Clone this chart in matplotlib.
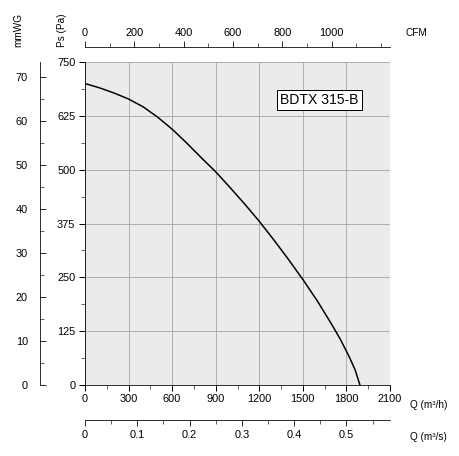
import matplotlib.pyplot as plt
import numpy as np

# fan curve
q_m3h = [0, 100, 200, 300, 400, 500, 600, 700, 800, 900, 1000, 1100, 1200, 1300,
         1400, 1500, 1600, 1700, 1760, 1820, 1860, 1893]
ps_pa = [700, 690, 678, 664, 646, 622, 594, 562, 528, 495, 458, 420, 380, 337,
         292, 245, 195, 140, 105, 65, 35, 0]

pa_ticks = [0, 125, 250, 375, 500, 625, 750]
q_ticks = [0, 300, 600, 900, 1200, 1500, 1800, 2100]
cfm_ticks = [0, 200, 400, 600, 800, 1000]
m3s_ticks = [0, 0.1, 0.2, 0.3, 0.4, 0.5]
mm_ticks = [0, 10, 20, 30, 40, 50, 60, 70]
label = "BDTX 315-B"

plt.rcParams["font.family"] = "Liberation Sans"
plt.rcParams["font.size"] = 11
fig = plt.figure(figsize=(459 / 72, 456 / 72), dpi=72)
ax = fig.add_axes([85 / 459, 1 - 385 / 456, 305 / 459, 323 / 456])
ax.set_facecolor("#ebebeb")
ax.set_xlim(0, 2100)
ax.set_ylim(0, 750)
for s in ax.spines.values():
    s.set_visible(False)
ax.spines["bottom"].set_visible(True)
ax.spines["left"].set_visible(True)
ax.set_xticks(q_ticks)
ax.set_xticks(np.arange(0, 2101, 150), minor=True)
ax.set_yticks(pa_ticks)
ax.set_yticks(np.arange(0, 751, 62.5), minor=True)
ax.tick_params(length=6, width=1)
ax.tick_params(which="minor", length=4)
ax.grid(True, color="#a0a0a0", lw=0.8)
ax.plot(q_m3h, ps_pa, color="black", lw=1.5)
ax.text(0.64, 0.87, label, transform=ax.transAxes, fontsize=14,
        bbox=dict(facecolor="white", edgecolor="black", pad=3))

# top CFM axis
top = ax.twiny()
top.set_xlim(0, 2100 / 1.699)
for s in top.spines.values():
    s.set_visible(False)
top.spines["top"].set_visible(True)
top.spines["top"].set_position(("outward", 15))
top.set_xticks(cfm_ticks)
top.set_xticks(np.arange(0, 1201, 100), minor=True)
top.tick_params(length=6)
top.tick_params(which="minor", length=4)

# bottom m3/s axis
bot = ax.twiny()
bot.set_xlim(0, 2100 / 3600)
for s in bot.spines.values():
    s.set_visible(False)
bot.xaxis.set_ticks_position("bottom")
bot.xaxis.set_label_position("bottom")
bot.spines["bottom"].set_visible(True)
bot.spines["bottom"].set_position(("outward", 35))
bot.set_xticks(m3s_ticks)
bot.set_xticklabels(["0", "0.1", "0.2", "0.3", "0.4", "0.5"])
bot.set_xticks(np.arange(0, 0.58, 0.05), minor=True)
bot.tick_params(length=6)
bot.tick_params(which="minor", length=4)

# left mmWG axis
lft = ax.twinx()
lft.set_ylim(0, 73.4)
for s in lft.spines.values():
    s.set_visible(False)
lft.yaxis.set_ticks_position("left")
lft.spines["left"].set_visible(True)
lft.spines["left"].set_position(("outward", 45))
lft.set_yticks(mm_ticks)
lft.set_yticks(np.arange(0, 73, 5), minor=True)
lft.tick_params(length=6, direction="in", pad=12)
lft.tick_params(which="minor", length=4, direction="in")

fig.text(18 / 459, 1 - 30 / 456, "mmWG", rotation=90, ha="center", va="center", fontsize=10)
fig.text(62 / 459, 1 - 30 / 456, "Ps (Pa)", rotation=90, ha="center", va="center", fontsize=10)
fig.text(405 / 459, 1 - 33 / 456, "CFM", ha="left", va="center", fontsize=10)
fig.text(410 / 459, 1 - 405 / 456, "Q (m³/h)", ha="left", va="center", fontsize=10)
fig.text(410 / 459, 1 - 437 / 456, "Q (m³/s)", ha="left", va="center", fontsize=10)

fig.savefig("out.png", dpi=72)
